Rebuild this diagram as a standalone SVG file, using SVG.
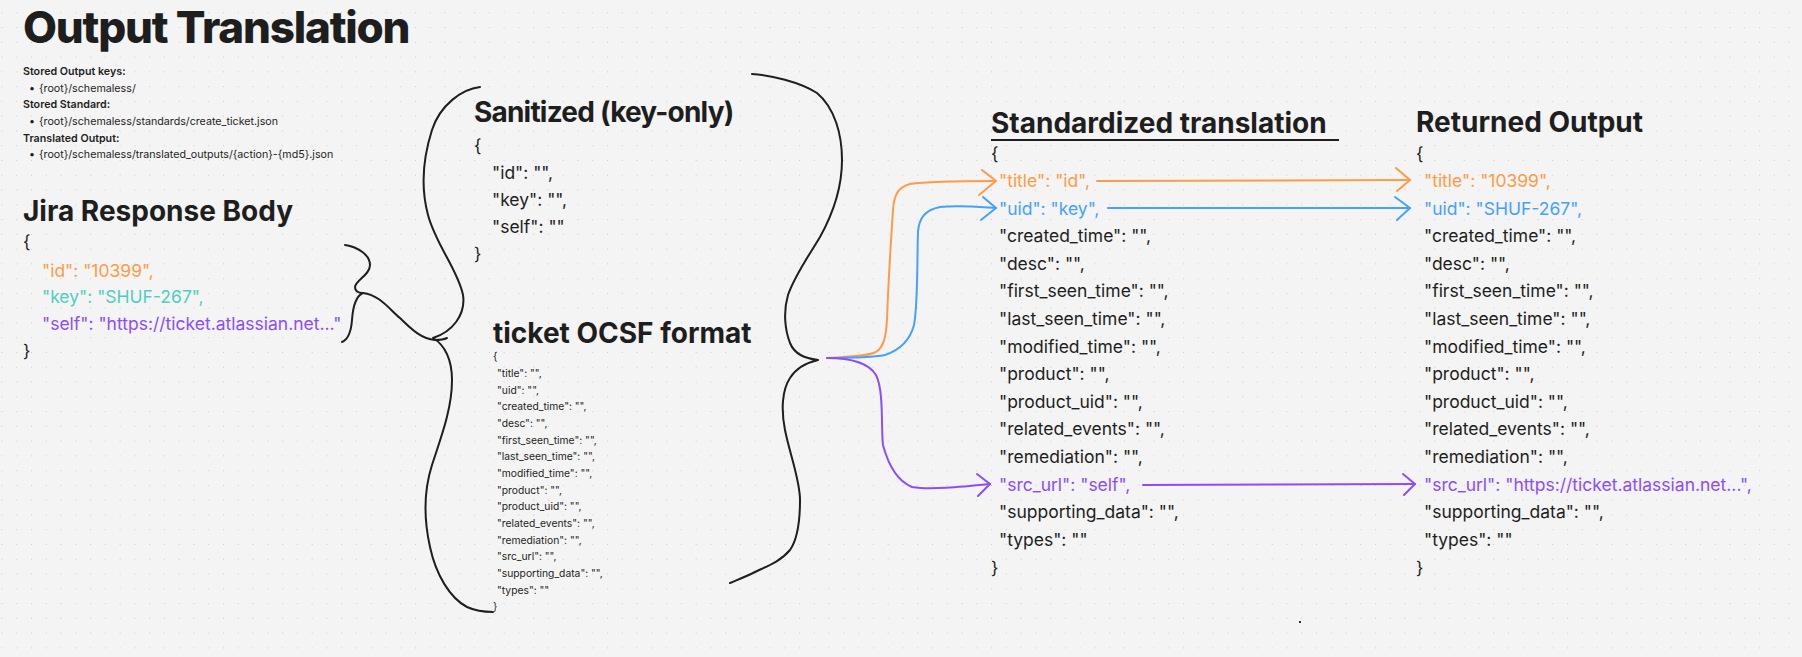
<svg xmlns="http://www.w3.org/2000/svg" width="1802" height="657" viewBox="0 0 1802 657">
<defs>
<pattern id="dots" x="1.45" y="12.3" width="14.77" height="14.77" patternUnits="userSpaceOnUse">
<rect x="-0.7" y="-0.7" width="1.5" height="1.5" fill="#b8b8b8"/>
</pattern>
<style>
text{font-family:Inter,"Noto Sans","Liberation Sans",sans-serif;fill:#1e1e1e}
.h0{font-size:44px;font-weight:800;letter-spacing:-1.2px}
.h1{font-size:28px;font-weight:700}
.lb{font-size:10.7px;font-weight:600}
.li{font-size:10.7px}
.b{font-size:17.5px}
.s{font-size:10.3px}
.or{fill:#ff9b47}
.te{fill:#4fcfc0}
.pu{fill:#8b4dff}
.bl{fill:#45a1ff}
.ink{fill:none;stroke:#1e1e1e;stroke-width:2;stroke-linecap:round;stroke-linejoin:round}
.ao{fill:none;stroke:#ff9b47;stroke-width:2;stroke-linecap:round;stroke-linejoin:round}
.ab{fill:none;stroke:#45a1ff;stroke-width:2;stroke-linecap:round;stroke-linejoin:round}
.ap{fill:none;stroke:#8b4dff;stroke-width:2;stroke-linecap:round;stroke-linejoin:round}
</style>
</defs>
<rect width="1802" height="657" fill="#f4f4f4"/>
<rect width="1802" height="657" fill="url(#dots)"/>

<g id="title">
<text class="h0" x="23" y="43">Output Translation</text>
</g>

<g id="storage-notes">
<text class="lb" x="23" y="75">Stored Output keys:</text>
<text class="li" x="29" y="92">•</text><text class="li" x="39" y="92">{root}/schemaless/</text>
<text class="lb" x="23" y="108">Stored Standard:</text>
<text class="li" x="29" y="125">•</text><text class="li" x="39" y="125">{root}/schemaless/standards/create_ticket.json</text>
<text class="lb" x="23" y="142">Translated Output:</text>
<text class="li" x="29" y="158">•</text><text class="li" x="39" y="158">{root}/schemaless/translated_outputs/{action}-{md5}.json</text>
</g>

<g id="jira-response">
<text class="h1" x="23" y="221">Jira Response Body</text>
<text class="b" x="23" y="248">{</text>
<text class="b or" x="42" y="277">"id": "10399",</text>
<text class="b te" x="42" y="303">"key": "SHUF-267",</text>
<text class="b pu" x="42" y="330">"self": "https://ticket.atlassian.net..."</text>
<text class="b" x="23" y="357">}</text>
</g>

<g id="sanitized">
<text class="h1" x="474" y="122" letter-spacing="-0.8">Sanitized (key-only)</text>
<text class="b" x="474" y="152">{</text>
<text class="b" x="492" y="179">"id": "",</text>
<text class="b" x="492" y="206">"key": "",</text>
<text class="b" x="492" y="233">"self": ""</text>
<text class="b" x="474" y="260">}</text>
</g>

<g id="ocsf-format">
<text class="h1" x="493" y="343">ticket OCSF format</text>
<text class="s" x="493" y="360">{</text>
<text class="s" x="497" y="377">"title": "",</text>
<text class="s" x="497" y="393.7">"uid": "",</text>
<text class="s" x="497" y="410.3">"created_time": "",</text>
<text class="s" x="497" y="427">"desc": "",</text>
<text class="s" x="497" y="443.7">"first_seen_time": "",</text>
<text class="s" x="497" y="460.3">"last_seen_time": "",</text>
<text class="s" x="497" y="477">"modified_time": "",</text>
<text class="s" x="497" y="493.7">"product": "",</text>
<text class="s" x="497" y="510.3">"product_uid": "",</text>
<text class="s" x="497" y="527">"related_events": "",</text>
<text class="s" x="497" y="543.7">"remediation": "",</text>
<text class="s" x="497" y="560.3">"src_url": "",</text>
<text class="s" x="497" y="577">"supporting_data": "",</text>
<text class="s" x="497" y="593.7">"types": ""</text>
<text class="s" x="493" y="610.3">}</text>
</g>

<g id="standardized">
<text class="h1" x="991" y="133">Standardized translation</text>
<line x1="991" y1="140" x2="1339" y2="140" stroke="#1e1e1e" stroke-width="2"/>
<text class="b" x="991" y="160">{</text>
<text class="b or" x="999" y="187">"title": "id",</text>
<text class="b bl" x="999" y="214.6">"uid": "key",</text>
<text class="b" x="999" y="242.2">"created_time": "",</text>
<text class="b" x="999" y="269.8">"desc": "",</text>
<text class="b" x="999" y="297.4">"first_seen_time": "",</text>
<text class="b" x="999" y="325">"last_seen_time": "",</text>
<text class="b" x="999" y="352.6">"modified_time": "",</text>
<text class="b" x="999" y="380.2">"product": "",</text>
<text class="b" x="999" y="407.8">"product_uid": "",</text>
<text class="b" x="999" y="435.4">"related_events": "",</text>
<text class="b" x="999" y="463">"remediation": "",</text>
<text class="b pu" x="999" y="490.6">"src_url": "self",</text>
<text class="b" x="999" y="518.2">"supporting_data": "",</text>
<text class="b" x="999" y="545.8">"types": ""</text>
<text class="b" x="991" y="574">}</text>
</g>

<g id="returned">
<text class="h1" x="1416" y="132">Returned Output</text>
<text class="b" x="1416" y="160">{</text>
<text class="b or" x="1424" y="187">"title": "10399",</text>
<text class="b bl" x="1424" y="214.6">"uid": "SHUF-267",</text>
<text class="b" x="1424" y="242.2">"created_time": "",</text>
<text class="b" x="1424" y="269.8">"desc": "",</text>
<text class="b" x="1424" y="297.4">"first_seen_time": "",</text>
<text class="b" x="1424" y="325">"last_seen_time": "",</text>
<text class="b" x="1424" y="352.6">"modified_time": "",</text>
<text class="b" x="1424" y="380.2">"product": "",</text>
<text class="b" x="1424" y="407.8">"product_uid": "",</text>
<text class="b" x="1424" y="435.4">"related_events": "",</text>
<text class="b" x="1424" y="463">"remediation": "",</text>
<text class="b pu" x="1424" y="490.6">"src_url": "https://ticket.atlassian.net...",</text>
<text class="b" x="1424" y="518.2">"supporting_data": "",</text>
<text class="b" x="1424" y="545.8">"types": ""</text>
<text class="b" x="1416" y="574">}</text>
</g>

<g id="connectors">
<path class="ink" d="M345,245 C358,247 370,255 370,265 C370,275 356,280 355,287 C355,292 360,293 363,293 C356,296 353,305 352,320 C351,333 347,340 342,342"/>
<path class="ink" d="M363,293 C380,295 390,310 400,318 C412,330 422,339 435,340 C440,340 445,339 447,338"/>
<path class="ink" d="M480,87 C462,89 440,105 432,130 C424,155 420,185 428,215 C436,245 458,270 463,295 C466,315 452,332 433,338 C445,345 452,360 452,380 C452,410 440,440 432,465 C424,490 424,520 430,547 C436,575 450,598 467,607 C478,612 487,612 493,612"/>
<path class="ink" d="M752,74 C770,75 800,82 817,93 C835,108 842,135 842,160 C842,185 835,210 820,237 C808,257 795,275 788,295 C783,312 785,330 790,343 C795,355 805,358 818,360 C805,363 795,370 790,378 C782,390 781,410 785,430 C790,455 800,480 800,500 C800,525 797,540 790,550 C780,562 765,567 755,572 C745,577 737,580 730,583"/>
<path class="ao" d="M827,358 C850,357 868,356 876,352 C884,347 886,336 887,320 C888,290 891,240 893,210 C894,195 898,187 910,184 C930,181 960,181 996,181"/>
<path class="ao" d="M982,170 L996,181 L979,195"/>
<path class="ab" d="M827,358 C850,358 870,358 885,355 C900,350 910,340 914,325 C918,305 917,260 918,232 C919,218 925,210 940,207 C960,205 980,207 996,208"/>
<path class="ab" d="M983,197 L996,208 L981,220"/>
<path class="ap" d="M827,358 C850,358 868,362 876,375 C884,390 881,430 883,445 C887,460 895,480 912,487 C930,490 960,487 990,484"/>
<path class="ap" d="M977,474 L990,484 L978,496"/>
<path class="ao" d="M1097,181 L1410,180"/>
<path class="ao" d="M1396,168 L1410,180 L1397,191"/>
<path class="ab" d="M1108,208 L1410,208"/>
<path class="ab" d="M1395,197 L1410,208 L1397,220"/>
<path class="ap" d="M1143,485 L1415,484"/>
<path class="ap" d="M1403,474 L1415,484 L1404,495"/>
</g>
<rect x="1299" y="621" width="2" height="2" fill="#333"/>
</svg>
